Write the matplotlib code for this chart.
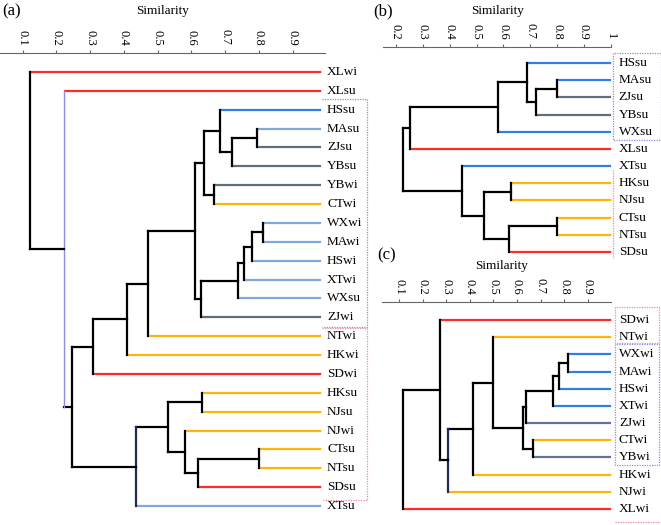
import numpy as np
import matplotlib
matplotlib.use("Agg")
import matplotlib.pyplot as plt
from matplotlib.transforms import blended_transform_factory

plt.rcParams['font.family'] = ['Liberation Serif', 'DejaVu Serif']

# ---------------- data ----------------
# colour codes: R red, B bright blue, L light blue, G slate grey, O orange, S blue-grey
leaves_a = ["XLwi", "XLsu", "HSsu", "MAsu", "ZJsu", "YBsu", "YBwi", "CTwi", "WXwi", "MAwi",
            "HSwi", "XTwi", "WXsu", "ZJwi", "NTwi", "HKwi", "SDwi", "HKsu", "NJsu", "NJwi",
            "CTsu", "NTsu", "SDsu", "XTsu"]
colors_a = ["R", "R", "B", "L", "G", "G", "G", "O", "L", "L",
            "L", "L", "L", "G", "O", "O", "R", "O", "O", "O",
            "O", "O", "R", "L"]
# (new cluster, child 1, child 2, similarity)
links_a = [("a1", "MAsu", "ZJsu", 0.795), ("a2", "a1", "YBsu", 0.72), ("a3", "HSsu", "a2", 0.685),
           ("a4", "YBwi", "CTwi", 0.667), ("a5", "a3", "a4", 0.637), ("a6", "WXwi", "MAwi", 0.813),
           ("a7", "a6", "HSwi", 0.78), ("a8", "a7", "XTwi", 0.755), ("a9", "a8", "WXsu", 0.737),
           ("a10", "a9", "ZJwi", 0.628), ("a11", "a5", "a10", 0.61), ("a12", "a11", "NTwi", 0.47),
           ("a13", "a12", "HKwi", 0.41), ("a14", "a13", "SDwi", 0.309), ("a15", "HKsu", "NJsu", 0.631),
           ("a16", "CTsu", "NTsu", 0.799), ("a17", "a16", "SDsu", 0.62), ("a18", "NJwi", "a17", 0.58),
           ("a19", "a15", "a18", 0.53), ("a20", "a19", "XTsu", 0.437), ("a21", "a14", "a20", 0.246),
           ("a22", "XLsu", "a21", 0.222), ("a23", "XLwi", "a22", 0.121)]

leaves_b = ["HSsu", "MAsu", "ZJsu", "YBsu", "WXsu", "XLsu", "XTsu", "HKsu", "NJsu", "CTsu", "NTsu", "SDsu"]
colors_b = ["B", "B", "G", "G", "B", "R", "B", "O", "O", "O", "O", "R"]
links_b = [("b1", "MAsu", "ZJsu", 0.80), ("b2", "b1", "YBsu", 0.72), ("b3", "HSsu", "b2", 0.687),
           ("b4", "b3", "WXsu", 0.579), ("b5", "b4", "XLsu", 0.252), ("b6", "HKsu", "NJsu", 0.63),
           ("b7", "CTsu", "NTsu", 0.80), ("b8", "b7", "SDsu", 0.62), ("b9", "b6", "b8", 0.527),
           ("b10", "XTsu", "b9", 0.445), ("b11", "b5", "b10", 0.226)]

leaves_c = ["SDwi", "NTwi", "WXwi", "MAwi", "HSwi", "XTwi", "ZJwi", "CTwi", "YBwi", "HKwi", "NJwi", "XLwi"]
colors_c = ["R", "O", "B", "B", "B", "B", "S", "O", "S", "O", "O", "R"]
links_c = [("c1", "WXwi", "MAwi", 0.815), ("c2", "c1", "HSwi", 0.78), ("c3", "c2", "XTwi", 0.755),
           ("c4", "c3", "ZJwi", 0.64), ("c5", "CTwi", "YBwi", 0.668), ("c6", "c4", "c5", 0.625),
           ("c7", "NTwi", "c6", 0.50), ("c8", "c7", "HKwi", 0.414), ("c9", "c8", "NJwi", 0.307),
           ("c10", "SDwi", "c9", 0.274), ("c11", "c10", "XLwi", 0.117)]

ticks_a = [0.1, 0.2, 0.3, 0.4, 0.5, 0.6, 0.7, 0.8, 0.9]
ticks_b = [0.2, 0.3, 0.4, 0.5, 0.6, 0.7, 0.8, 0.9, 1.0]
ticks_c = [0.1, 0.2, 0.3, 0.4, 0.5, 0.6, 0.7, 0.8, 0.9]
ticklabels_a = ["0.1", "0.2", "0.3", "0.4", "0.5", "0.6", "0.7", "0.8", "0.9"]
ticklabels_b = ["0.2", "0.3", "0.4", "0.5", "0.6", "0.7", "0.8", "0.9", "1"]
ticklabels_c = ["0.1", "0.2", "0.3", "0.4", "0.5", "0.6", "0.7", "0.8", "0.9"]

# ---------------- style ----------------
PAL = {"R": "#ff2a2a", "B": "#2f7fe6", "L": "#7fa8dc", "G": "#5d6f7d", "O": "#ffb40a", "S": "#60739a"}
VCOLOR_A = {"a22": ("#8c8cf0", 1.0), "a20": ("#1c2a5e", 1.6)}
VCOLOR_C = {"c9": ("#1c2a5e", 1.6)}
W, H = 661, 525
fig = plt.figure(figsize=(W / 100, H / 100), dpi=100)


def add_ax(x0, x1, y0, y1):
    return fig.add_axes([x0 / W, 1 - y1 / H, (x1 - x0) / W, (y1 - y0) / H])


def dendro(ax, leaves, codes, links, leaf_end, xlim, ylim, ticks, tlabels, fs_leaf, lab_off, vcol=None):
    vcol = vcol or {}
    pos = {n: (leaf_end, i) for i, n in enumerate(leaves)}
    col = {n: PAL[c] for n, c in zip(leaves, codes)}
    for name, c1, c2, s in links:
        ys = []
        for ch in (c1, c2):
            x, y = pos[ch]
            if ch in col:
                ax.plot([s, x], [y, y], color=col[ch], lw=1.6, solid_capstyle='butt', zorder=2)
            else:
                ax.plot([s, x], [y, y], color='black', lw=1.6, solid_capstyle='projecting', zorder=3)
            ys.append(y)
        vc, vw = vcol.get(name, ('black', 1.6))
        ax.plot([s, s], ys, color=vc, lw=vw, solid_capstyle='projecting', zorder=3)
        pos[name] = (s, float(np.mean(ys)))
    for i, n in enumerate(leaves):
        ax.annotate(n, xy=(leaf_end, i), xytext=(lab_off, 0), textcoords='offset points',
                    va='center', ha='left', fontsize=fs_leaf, annotation_clip=False)
    ax.set_xlim(*xlim)
    ax.set_ylim(*ylim)
    for sp in ['bottom', 'left', 'right']:
        ax.spines[sp].set_visible(False)
    ax.spines['top'].set_color('#666666')
    ax.spines['top'].set_linewidth(0.8)
    ax.xaxis.tick_top()
    ax.set_xticks(ticks)
    ax.set_xticklabels(tlabels, rotation=270, fontsize=9)
    ax.tick_params(axis='x', direction='out', length=2.5, width=0.8, color='#666666', pad=3)
    ax.set_yticks([])
    ax.patch.set_alpha(0)


ax_a = add_ax(0, 325, 53, 520)
dendro(ax_a, leaves_a, colors_a, links_a, 0.984, (0.0327, 0.9957), (23.74, -1.007),
       ticks_a, ticklabels_a, 9.5, 4.3, VCOLOR_A)
ax_b = add_ax(383, 611, 47, 262)
dendro(ax_b, leaves_b, colors_b, links_b, 1.0, (0.1516, 1.0011), (11.58, -0.93),
       ticks_b, ticklabels_b, 9.5, 5.8)
ax_c = add_ax(382, 611, 302, 520)
dendro(ax_c, leaves_c, colors_c, links_c, 0.999, (0.0265, 0.9995), (11.64, -1.05),
       ticks_c, ticklabels_c, 9.5, 5.8, VCOLOR_C)

# titles / panel letters
fig.text(163 / W, 1 - 11 / H, "Similarity", ha='center', va='center', fontsize=9.5)
fig.text(498 / W, 1 - 11 / H, "Similarity", ha='center', va='center', fontsize=9.5)
fig.text(502 / W, 1 - 266 / H, "Similarity", ha='center', va='center', fontsize=9.5)
fig.text(2 / W, 1 - 11 / H, "(a)", ha='left', va='center', fontsize=12)
fig.text(373 / W, 1 - 11 / H, "(b)", ha='left', va='center', fontsize=12)
fig.text(377 / W, 1 - 255 / H, "(c)", ha='left', va='center', fontsize=12)

# dotted group boxes
BLUE_BOX, RED_BOX = "#8d8de6", "#ee8aa0"


def seg(ax, xs, ys, color):
    tr = blended_transform_factory(ax.transAxes, ax.transData)
    ax.plot(xs, ys, color=color, lw=0.9, ls=(0, (1, 1)), transform=tr, clip_on=False, zorder=1)


# (a)
seg(ax_a, [0.991, 1.129, 1.129, 0.991], [1.45, 1.45, 13.5, 13.5], BLUE_BOX)
seg(ax_a, [0.991, 1.129, 1.129, 0.991], [13.58, 13.58, 22.68, 22.68], RED_BOX)
# (b)
seg(ax_b, [1.009, 1.009, 1.219, 1.219, 1.009], [-0.58, 4.48, 4.48, -0.58, -0.58], BLUE_BOX)
seg(ax_b, [1.009, 1.009], [6.25, 11.35], RED_BOX)
# (c)
seg(ax_c, [1.018, 1.018, 1.21, 1.21, 1.018], [-0.76, 1.35, 1.35, -0.76, -0.76], RED_BOX)
seg(ax_c, [1.018, 1.018, 1.21, 1.21, 1.018], [1.42, 8.45, 8.45, 1.42, 1.42], BLUE_BOX)
seg(ax_c, [1.018, 1.21], [11.76, 11.76], RED_BOX)

fig.savefig("out.png", dpi=100)
